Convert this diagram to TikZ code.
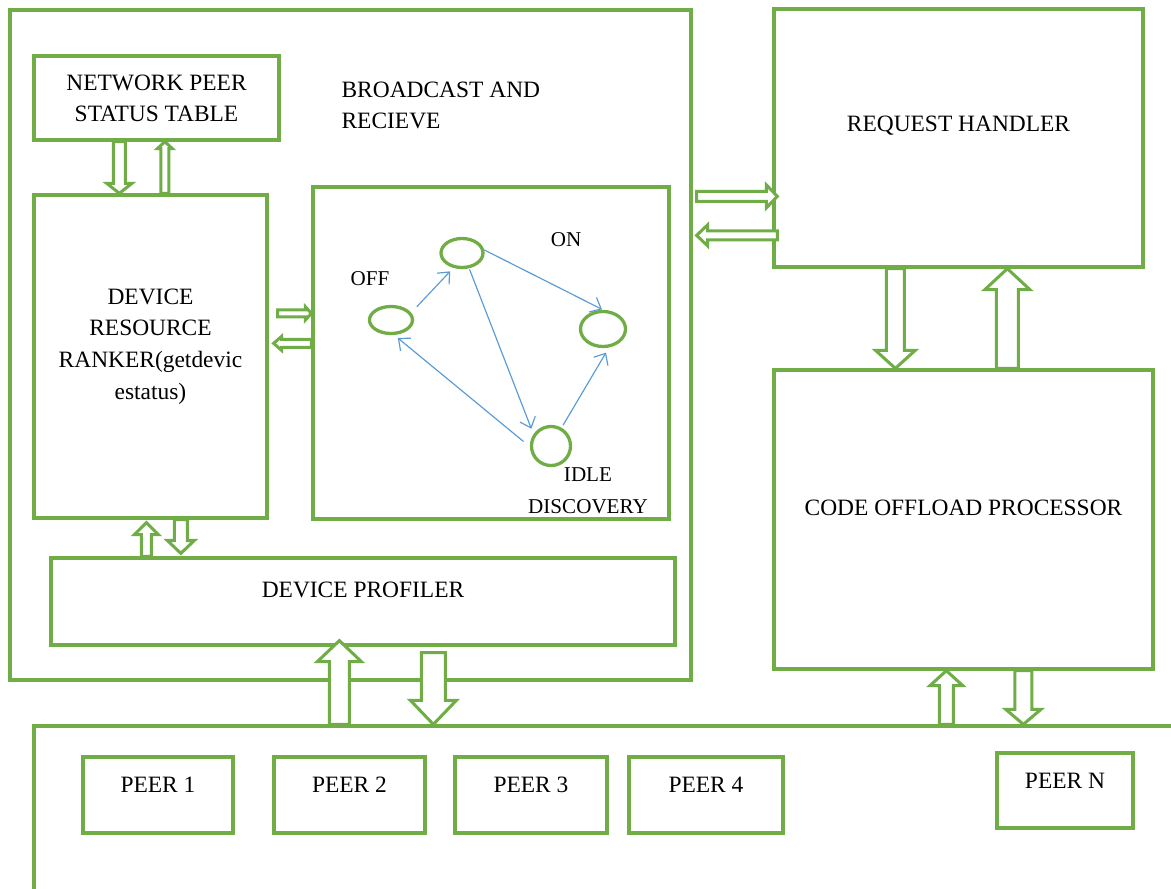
\documentclass[tikz,border=0pt]{standalone}
\usepackage{fontspec}
\setmainfont{Liberation Serif}
\usetikzlibrary{calc}
\usetikzlibrary{arrows.meta}
\usetikzlibrary{fit}
\usetikzlibrary{shapes.geometric}

\definecolor{wgreen}{RGB}{112,173,71}
\definecolor{wblue}{RGB}{91,155,213}

\tikzset{
  box/.style={draw=wgreen, line width=2.8pt, inner sep=0pt},
  txt/.style={font=\fontsize{20}{27}\selectfont, align=center, inner sep=0pt},
  stxt/.style={font=\fontsize{18}{27}\selectfont, align=center, inner sep=0pt},
  state/.style={ellipse, draw=wgreen, line width=2.8pt, inner sep=0pt},
  trans/.style={draw=wblue, line width=1pt, -{Straight Barb[length=8pt,width=14pt]}},
  fatarr/.style={draw=wgreen, line width=2.6pt, fill=white, line join=miter}
}

% tail, tip, shaft half width, head half width, head length
\newcommand{\fatarrow}[5]{%
  \coordinate (hb) at ($(#2)!#5!(#1)$);
  \draw[fatarr] ($(#1)!#3!90:(#2)$) -- ($(hb)!#3!90:(#2)$) -- ($(hb)!#4!90:(#2)$) -- (#2)
    -- ($(hb)!#4!-90:(#2)$) -- ($(hb)!#3!-90:(#2)$) -- ($(#1)!#3!-90:(#2)$) -- cycle;
}

\begin{document}
\begin{tikzpicture}[x=0.03cm, y=-0.03cm]
\useasboundingbox (0,0) rectangle (1171,888);
\clip (0,0) rectangle (1171,888);

% boxes
\node[box, fit={(10,10) (691,680)}] (bcast) {};
\node[box, fit={(34,56) (279,140)}] (nps) {};
\node[box, fit={(34,195) (267,518)}] (drr) {};
\node[box, fit={(313,187) (669,519)}] (stbox) {};
\node[box, fit={(51,558) (675,645)}] (dp) {};
\node[box, fit={(774,9) (1143,267)}] (rh) {};
\node[box, fit={(774,370) (1153,669)}] (cop) {};
\node[box, fit={(34,726) (1220,940)}] (peers) {};

\node[txt] (npstxt) at ($(nps)+(0,0.5)$) {NETWORK PEER\\STATUS TABLE};
\node[txt, align=left, anchor=west] (bctxt) at ($(bcast.north west)+(333,97)$) {BROADCAST AND\\RECIEVE};
\node[txt] (drrtxt) at ($(drr)+(0,-10)$) {DEVICE\\RESOURCE\\RANKER(getdevic\\estatus)};
\node[txt] (dptxt) at ($(dp)+(0,-12)$) {DEVICE PROFILER};
\node[txt] (rhtxt) at ($(rh)+(0,-12.5)$) {REQUEST HANDLER};
\node[txt] (coptxt) at ($(cop)+(0,-12)$) {CODE OFFLOAD PROCESSOR};

% peers
\foreach \i/\xa/\xb in {1/83/233, 2/274/425, 3/455/607, 4/629/783} {
  \node[box, fit={(\xa,757) (\xb,833)}] (peer\i) {};
  \node[txt] (peertxt\i) at ($(peer\i)+(0,-10.5)$) {PEER \i};
}
\node[box, fit={(997,753) (1133,828)}] (peerN) {};
\node[txt] (peertxtN) at ($(peerN)+(0,-10)$) {PEER N};

% device states
\node[state, minimum width=1.29cm, minimum height=0.81cm] (offst) at (391,320) {};
\node[state, minimum width=1.26cm, minimum height=0.87cm] (midst) at (462,253) {};
\node[state, minimum width=1.35cm, minimum height=1.05cm] (onst) at (603,329) {};
\node[state, minimum width=1.17cm, minimum height=1.17cm] (idlest) at (551,446) {};

\node[stxt] (offlbl) at ($(offst)+(-21,-41)$) {OFF};
\node[stxt] (onlbl) at ($(onst)+(-37,-89)$) {ON};
\node[stxt] (idlelbl) at ($(idlest)+(37,45)$) {IDLE\\DISCOVERY};

\draw[trans, shorten <=7pt, shorten >=4pt] (offst.20) -- (midst.240);
\draw[trans, shorten >=1pt] (midst.8) -- (onst.north);
\draw[trans, shorten <=1pt, shorten >=5pt] (midst.-65) -- (idlest.146);
\draw[trans, shorten <=7pt, shorten >=4pt] (idlest.182) -- (offst.-78);
\draw[trans, shorten <=2.5pt, shorten >=5pt] (idlest.60) -- (onst.-72);

% block arrows
\coordinate (t1) at ($(nps.south west)+(87,0)$);
\coordinate (p1) at (t1 |- drr.north);
\fatarrow{t1}{p1}{5.1pt}{10.7pt}{8.5pt}
\coordinate (t2) at ($(drr.north west)+(132.5,0)$);
\coordinate (p2) at (t2 |- nps.south);
\fatarrow{t2}{p2}{3.4pt}{6.4pt}{6pt}
\coordinate (t3) at ($(drr.north east)+(9,120)$);
\coordinate (p3) at (t3 -| stbox.west);
\fatarrow{t3}{p3}{3pt}{5.5pt}{5pt}
\coordinate (t4) at ($(stbox.north west)+(0,158)$);
\coordinate (p4) at ($(t4 -| drr.east)+(5,0)$);
\fatarrow{t4}{p4}{3.4pt}{6pt}{6.8pt}
\coordinate (t5) at ($(bcast.north east)+(4,188)$);
\coordinate (p5) at ($(t5 -| rh.west)+(5,0)$);
\fatarrow{t5}{p5}{4.3pt}{9.8pt}{9.4pt}
\coordinate (t6) at ($(rh.north west)+(5,228)$);
\coordinate (p6) at ($(t6 -| bcast.east)+(4,0)$);
\fatarrow{t6}{p6}{3.8pt}{9pt}{9.4pt}
\coordinate (t7) at ($(rh.south west)+(123,0)$);
\coordinate (p7) at (t7 |- cop.north);
\fatarrow{t7}{p7}{7.7pt}{17pt}{15.4pt}
\coordinate (t8) at ($(cop.north west)+(235,0)$);
\coordinate (p8) at (t8 |- rh.south);
\fatarrow{t8}{p8}{9.4pt}{19.2pt}{17.9pt}
\coordinate (t9) at ($(peers.north west)+(307,0)$);
\coordinate (p9) at ($(t9 |- dp.south)+(0,-6)$);
\fatarrow{t9}{p9}{8.5pt}{18.8pt}{17.9pt}
\coordinate (t10) at ($(dp.south west)+(384,6)$);
\coordinate (p10) at (t10 |- peers.north);
\fatarrow{t10}{p10}{10.2pt}{19.6pt}{20.5pt}
\coordinate (t11) at ($(peers.north west)+(914,0)$);
\coordinate (p11) at (t11 |- cop.south);
\fatarrow{t11}{p11}{6pt}{14pt}{12.8pt}
\coordinate (t12) at ($(cop.south west)+(251,0)$);
\coordinate (p12) at (t12 |- peers.north);
\fatarrow{t12}{p12}{7.3pt}{15pt}{12.8pt}
\coordinate (t13) at ($(dp.north west)+(97,0)$);
\coordinate (p13) at ($(t13 |- drr.south)+(0,3)$);
\fatarrow{t13}{p13}{4.3pt}{10.2pt}{10.2pt}
\coordinate (t14) at ($(drr.south west)+(148.5,0)$);
\coordinate (p14) at ($(t14 |- dp.north)+(0,-3)$);
\fatarrow{t14}{p14}{5.5pt}{11.5pt}{11pt}

\end{tikzpicture}
\end{document}
